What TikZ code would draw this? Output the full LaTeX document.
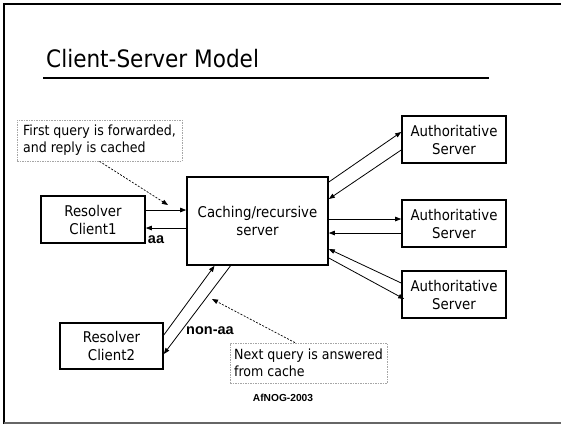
\documentclass[tikz,border=0pt]{standalone}
\usepackage{fontspec}
\setmainfont{DejaVu Sans Condensed}
\newfontfamily\labelfont{Liberation Sans}
\usetikzlibrary{arrows.meta}
\tikzset{
  box/.style={draw, line width=1.6pt, minimum width=104pt, minimum height=47pt,
    align=center, font=\fontsize{14.8}{18}\selectfont, inner sep=0pt},
  note/.style={draw=gray!70, dashed, dash pattern=on 1.5pt off 1pt, line width=0.7pt,
    align=left, font=\fontsize{14}{17}\selectfont, inner sep=0pt},
  link/.style={line width=0.8pt, -{Triangle[length=6pt,width=4.5pt]}},
  hint/.style={line width=0.7pt, dashed, dash pattern=on 2pt off 1.5pt,
    -{Triangle[length=6pt,width=4.5pt]}},
  tag/.style={font=\labelfont\bfseries\fontsize{14.5}{15}\selectfont, inner sep=0pt}
}
\begin{document}
\begin{tikzpicture}[x=1pt, y=-1pt]
  \useasboundingbox (0,0) rectangle (561,424);
  % slide frame
  \draw[line width=2.2pt] (4,424) -- (4,4) -- (565,4);
  \draw[line width=1.5pt, gray!80!black] (4,423) -- (565,423);

  % title and rule
  \node[anchor=base west, inner sep=0pt, font=\fontsize{24}{28}\selectfont]
    (title) at (46,67) {Client-Server Model};
  \draw[line width=1.2pt] (43,78) -- (489,78);

  % hosts
  \node[box] (client1) at (93,219.5) {Resolver\\Client1};
  \node[box, minimum width=103pt, minimum height=46pt] (client2) at (111.5,346) {Resolver\\Client2};
  \node[box, minimum width=141pt, minimum height=88pt] (cache) at (257.5,221) {Caching/recursive\\server};
  \node[box] (auth1) at (454,139.5) {Authoritative\\Server};
  \node[box] (auth2) at (454,223.5) {Authoritative\\Server};
  \node[box] (auth3) at (454,294.5) {Authoritative\\Server};

  % explanatory notes
  \node[note, minimum width=165pt, minimum height=41pt]
    (note1) at (99.5,140.5) {First query is forwarded,\\and reply is cached};
  \node[note, minimum width=157pt, minimum height=40pt]
    (note2) at (308.5,363) {Next query is answered\\from cache};

  % client 1 <-> cache
  \draw[link] ([yshift=9.5pt]client1.east) -- ([yshift=11pt]cache.west);
  \draw[link] ([yshift=-7pt]cache.west) -- ([yshift=-8.5pt]client1.east);

  % cache <-> authoritative servers
  \draw[link] ([yshift=39pt]cache.east) -- ([yshift=7.5pt]auth1.west);
  \draw[link] ([yshift=-10.5pt]auth1.west) -- ([yshift=22pt]cache.east);
  \draw[link] ([yshift=2pt]cache.east) -- ([yshift=4.5pt]auth2.west);
  \draw[link] ([yshift=-9.5pt]auth2.west) -- ([yshift=-12pt]cache.east);
  \draw[link] ([yshift=11.5pt]auth3.west) -- ([yshift=-28pt]cache.east);
  \draw[link] ([yshift=-37pt]cache.east) -- ([xshift=3pt,yshift=-4.5pt]auth3.west);

  % client 2 <-> cache
  \draw[link] ([yshift=11pt]client2.east) -- ([xshift=-43pt]cache.south);
  \draw[link] ([xshift=-27pt]cache.south) -- ([yshift=-8pt]client2.east);

  % notes point at the exchanges
  \coordinate (hint1) at (168,205);
  \coordinate (hint2) at (212,299);
  \draw[hint] (note1.south) -- (hint1);
  \draw[hint] ([xshift=-13.5pt]note2.north) -- (hint2);

  % response flags
  \node[tag] (aa) at (156,240) {aa};
  \node[tag] (nonaa) at (210,331) {non-aa};

  % footer
  \node[font=\labelfont\bfseries\fontsize{10.2}{12}\selectfont, inner sep=0pt]
    (footer) at (283,398) {AfNOG-2003};
\end{tikzpicture}
\end{document}
